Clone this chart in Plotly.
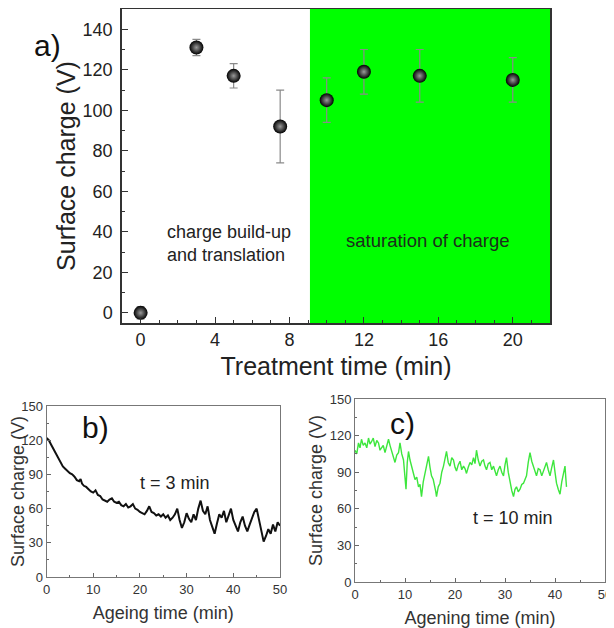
import plotly.graph_objects as go

# ---- Panel a data ----
treat_time = [0, 3, 5, 7.5, 10, 12, 15, 20]
treat_charge = [0, 131, 117, 92, 105, 119, 117, 115]
treat_err = [3, 4, 6, 18, 11, 11, 13, 11]
saturation_start = 9.1
a_xticks = [0, 4, 8, 12, 16, 20]
a_yticks = [0, 20, 40, 60, 80, 100, 120, 140]

# ---- Panel b data (t = 3 min) ----
b_time = [0, 0.5, 1, 1.5, 2, 2.5, 3, 3.5, 4, 4.5, 5, 5.5, 6, 6.5, 7, 7.3, 7.6, 8, 8.5, 9,
          9.5, 10, 10.5, 11, 11.5, 12, 12.5, 13, 13.5, 14, 14.5, 15, 15.5, 16, 16.5, 17,
          17.5, 18, 18.5, 19, 19.5, 20, 20.5, 21, 21.5, 22, 22.5, 23, 23.5, 24, 24.5, 25,
          25.5, 26, 26.5, 27, 27.5, 28, 28.5, 29, 29.5, 30, 30.5, 31, 31.5, 32, 32.5, 33,
          33.5, 34, 34.5, 35, 35.5, 36, 36.5, 37, 37.5, 38, 38.5, 39, 39.5, 40, 40.5, 41,
          41.5, 42, 42.5, 43, 43.5, 44, 44.5, 45, 45.5, 46, 46.5, 47, 47.5, 48, 48.5, 49,
          49.5, 50]
b_charge = [122, 120, 116, 112, 108, 104, 100, 97, 95, 93, 91, 90, 88, 85, 84, 86, 82, 80, 79, 77,
            75, 74, 76, 72, 71, 68, 67, 66, 68, 69, 66, 65, 66, 63, 62, 64,
            61, 62, 64, 60, 59, 57, 56, 55, 58, 62, 57, 56, 54, 55, 53, 55,
            52, 54, 50, 52, 55, 60, 50, 43, 48, 56, 51, 48, 55, 50, 60, 67,
            58, 55, 62, 50, 44, 38, 47, 55, 52, 58, 48, 55, 60, 50, 44, 40,
            48, 53, 45, 40, 46, 52, 57, 60, 50, 38, 31, 36, 42, 38, 46, 40,
            48, 45]

# ---- Panel c data (t = 10 min) ----
c_time = [0, 0.35, 0.7, 1.0, 1.3, 1.65, 2, 2.35, 2.7, 3.0, 3.3, 3.65, 4, 4.35, 4.7, 5.0,
          5.3, 5.65, 6, 6.35, 6.7, 7.0, 7.3, 7.65, 8, 8.35, 8.7, 8.85, 9, 9.35, 9.7, 9.95,
          10.2, 10.45, 10.7, 11.0, 11.3, 11.65, 12, 12.35, 12.7, 13.0, 13.3, 13.65, 14, 14.35,
          14.7, 15.0, 15.3, 15.65, 16, 16.15, 16.3, 16.65, 17, 17.35, 17.7, 18.0, 18.3, 18.65,
          19, 19.35, 19.7, 20.0, 20.3, 20.65, 21, 21.35, 21.7, 22.0, 22.3, 22.65, 23, 23.35,
          23.7, 24.0, 24.3, 24.65, 25, 25.35, 25.7, 26.0, 26.3, 26.65, 27, 27.35, 27.7, 28.0,
          28.3, 28.65, 29, 29.35, 29.7, 30.0, 30.3, 30.65, 31, 31.35, 31.7, 32.0, 32.3, 32.65,
          33, 33.35, 33.7, 34.0, 34.3, 34.65, 35, 35.35, 35.7, 36.0, 36.3, 36.65, 37, 37.35,
          37.7, 38.0, 38.3, 38.65, 39, 39.35, 39.7, 40.0, 40.3, 40.65, 41, 41.35, 41.7, 41.85,
          42, 42.15, 42.3]
c_charge = [108, 105, 114, 110, 117, 112, 114, 110, 118, 113, 115, 118, 111, 116, 114, 108,
            110, 112, 106, 111, 117, 112, 108, 103, 98, 104, 106, 110, 114, 105, 100, 88,
            76, 98, 107, 100, 95, 90, 84, 86, 78, 80, 70, 82, 89, 96,
            103, 94, 87, 84, 78, 74, 70, 78, 81, 90, 95, 101, 107, 98,
            95, 102, 100, 94, 91, 96, 99, 92, 95, 93, 89, 94, 98, 96,
            102, 97, 108, 100, 95, 99, 100, 95, 92, 97, 98, 92, 95, 91,
            87, 92, 95, 90, 87, 96, 102, 90, 81, 75, 70, 76, 78, 74,
            76, 80, 81, 85, 87, 98, 106, 99, 95, 90, 87, 93, 92, 87,
            91, 95, 98, 92, 87, 94, 100, 90, 81, 76, 72, 82, 89, 92,
            95, 86, 78]

axis_font = "Liberation Sans, Arial, sans-serif"

# The page body adds an 8 px offset; lay the figure out in window pixels.
OFF = 8
FW, FH = 614 - OFF, 628 - OFF


def px_x(px):
    return (px - OFF) / FW


def px_y(py):
    return 1 - (py - OFF) / FH


fig = go.Figure()

fig.add_trace(go.Scatter(
    x=treat_time, y=treat_charge, mode="markers",
    error_y=dict(type="data", array=treat_err, color="#8a8a8a", thickness=1.2, width=4),
    marker=dict(size=14, color="#000000", gradient=dict(type="radial", color="#9a9a9a"),
                line=dict(width=0)),
    xaxis="x", yaxis="y", showlegend=False))

fig.add_trace(go.Scatter(
    x=b_time, y=b_charge, mode="lines", line=dict(color="#111111", width=2),
    xaxis="x2", yaxis="y2", showlegend=False))

fig.add_trace(go.Scatter(
    x=c_time, y=c_charge, mode="lines", line=dict(color="#3de63d", width=1.4),
    xaxis="x3", yaxis="y3", showlegend=False))

fig.add_shape(type="rect", xref="x", yref="y domain", x0=saturation_start, x1=22,
              y0=0, y1=1, fillcolor="#00ff00", line=dict(width=0), layer="below")

common = dict(showline=True, mirror=True, ticks="inside", showgrid=False, zeroline=False,
              automargin=False)

fig.update_layout(
    template="none",
    width=FW, height=FH, margin=dict(l=0, r=0, t=0, b=0),
    paper_bgcolor="white", plot_bgcolor="white",
    font=dict(family=axis_font, color="#222"),
    xaxis=dict(domain=[px_x(122), px_x(550)], range=[-1, 22], tickvals=a_xticks,
               minor=dict(dtick=1, ticks="inside", ticklen=3, tickcolor="#333"),
               linecolor="#333", linewidth=1.5, ticklen=6, tickcolor="#333",
               tickfont=dict(size=18, color="#222"),
               title=dict(text="Treatment time (min)", font=dict(size=25, color="#222"), standoff=8),
               anchor="y", **common),
    yaxis=dict(domain=[px_y(323), px_y(9)], range=[-5, 150], tickvals=a_yticks,
               minor=dict(dtick=10, ticks="inside", ticklen=3, tickcolor="#333"),
               linecolor="#333", linewidth=1.5, ticklen=6, tickcolor="#333",
               tickfont=dict(size=18, color="#222"), ticklabelstandoff=4,
               title=dict(text="Surface charge (V)", font=dict(size=25, color="#222"), standoff=0),
               anchor="x", **common),
    xaxis2=dict(domain=[px_x(46.5), px_x(280)], range=[0, 50], dtick=10,
                minor=dict(dtick=5, ticks="inside", ticklen=2, tickcolor="#666"),
                linecolor="#777", linewidth=1, ticklen=4, tickcolor="#666",
                tickfont=dict(size=13, color="#333"),
                title=dict(text="Ageing time (min)", font=dict(size=18, color="#333"), standoff=10),
                anchor="y2", **common),
    yaxis2=dict(domain=[px_y(577), px_y(406)], range=[0, 150], dtick=30,
                minor=dict(dtick=15, ticks="inside", ticklen=2, tickcolor="#666"),
                linecolor="#777", linewidth=1, ticklen=4, tickcolor="#666",
                tickfont=dict(size=13, color="#333"),
                title=dict(text="Surface charge (V)", font=dict(size=18, color="#333"), standoff=0),
                anchor="x2", **common),
    xaxis3=dict(domain=[px_x(355), px_x(605)], range=[0, 50], dtick=10,
                minor=dict(dtick=5, ticks="inside", ticklen=2, tickcolor="#666"),
                linecolor="#777", linewidth=1, ticklen=4, tickcolor="#666",
                tickfont=dict(size=13, color="#333"),
                title=dict(text="Agening time (min)", font=dict(size=18, color="#333"), standoff=10),
                anchor="y3", **common),
    yaxis3=dict(domain=[px_y(582), px_y(399)], range=[0, 150], dtick=30,
                minor=dict(dtick=15, ticks="inside", ticklen=2, tickcolor="#666"),
                linecolor="#777", linewidth=1, ticklen=4, tickcolor="#666",
                tickfont=dict(size=13, color="#333"),
                title=dict(text="Surface charge (V)", font=dict(size=18, color="#333"), standoff=2),
                anchor="x3", **common),
)

annotations = [
    dict(text="a)", x=47, y=45, font=dict(size=30, color="#111")),
    dict(text="charge build-up<br>and translation", x=165, y=243, xanchor="left",
         align="left", font=dict(size=18, color="#222")),
    dict(text="saturation of charge", x=428, y=240, font=dict(size=18.5, color="#1c2e1c")),
    dict(text="b)", x=95, y=428, font=dict(size=30, color="#111")),
    dict(text="t = 3 min", x=175, y=483, font=dict(size=18, color="#222")),
    dict(text="c)", x=402, y=423, font=dict(size=30, color="#111")),
    dict(text="t = 10 min", x=513, y=518, font=dict(size=18, color="#222")),
]
for a in annotations:
    px, py = a.pop("x"), a.pop("y")
    fig.add_annotation(xref="paper", yref="paper", x=px_x(px), y=px_y(py),
                       showarrow=False, xanchor=a.pop("xanchor", "center"), yanchor="middle", **a)

fig.write_html("out.html")
